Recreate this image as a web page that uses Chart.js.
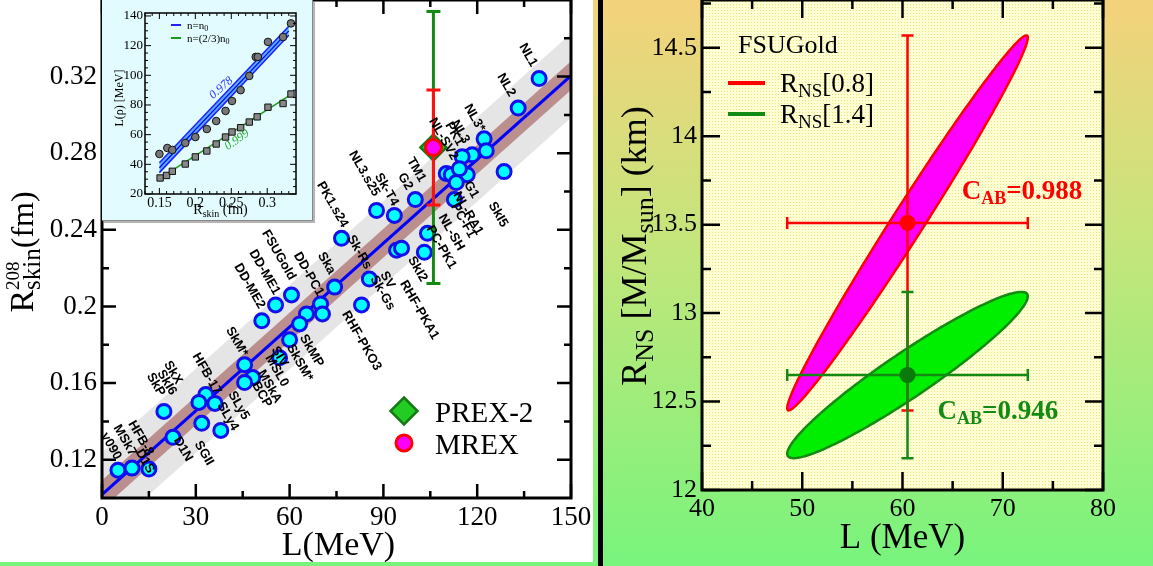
<!DOCTYPE html>
<html>
<head>
<meta charset="utf-8">
<script src="https://cdn.jsdelivr.net/npm/chart.js@4.4.0/dist/chart.umd.min.js"></script>
<style>
html, body { margin: 0; padding: 0; }
body {
    width: 1153px; height: 566px; position: relative; overflow: hidden;
    background: linear-gradient(to bottom, #f4d27c 0%, #c2e67b 45%, #78f47c 100%);
}
#leftWrap { position: absolute; left: 0; top: 0; width: 593px; height: 562px; background: #fff; }
#insetWrap {
    position: absolute; left: 102px; top: 0; width: 211px; height: 221px;
    background: #e1fbff; box-sizing: border-box; border-right: 1px solid #888; border-bottom: 1px solid #888;
    box-shadow: 2px 2px 0 #b5b5b5;
}
#divider { position: absolute; left: 598px; top: 0; width: 5px; height: 566px; background: #000; }
#rightWrap { position: absolute; left: 603px; top: 0; width: 550px; height: 566px; }
canvas { display: block; }
</style>
</head>
<body>
<div id="leftWrap"><canvas id="leftChart" width="593" height="562"></canvas></div>
<div id="insetWrap"><canvas id="insetChart" width="210" height="220"></canvas></div>
<div id="divider"></div>
<div id="rightWrap"><canvas id="rightChart" width="550" height="566"></canvas></div>
<script>
const SERIF = "'Liberation Serif', 'Times New Roman', serif";
const SANS = "'Liberation Sans', Arial, sans-serif";

// ---------- left panel: R_skin(208Pb) vs L ----------
const leftXTicks = [0, 30, 60, 90, 120, 150];
const leftXMinor = [15, 45, 75, 105, 135];
const leftYTicks = [0.12, 0.16, 0.2, 0.24, 0.28, 0.32];
const leftYMinor = [0.14, 0.18, 0.22, 0.26, 0.3, 0.34];

// model predictions (cyan circles)
const modelL = [139.8, 133.1, 122.2, 122.9, 118.4, 115.2, 128.6, 116.8, 110.1, 111.7, 114.3, 113.3, 112.7, 100.2, 93.5, 87.8,
    76.6, 104.1, 94.2, 95.8, 103.1, 85.5, 74.4, 83.0, 60.6, 55.5, 51.1, 69.9, 70.5, 65.4, 63.2, 60.0, 56.8, 45.6, 48.2, 45.6,
    33.2, 31.0, 36.1, 19.8, 31.9, 38.0, 22.7, 5.1, 9.6, 15.0];
const modelR = [0.319, 0.3036, 0.2875, 0.2813, 0.2792, 0.2782, 0.2704, 0.2688, 0.2694, 0.2688, 0.2719, 0.2647, 0.2558, 0.2558,
    0.2475, 0.2501, 0.2356, 0.2382, 0.2294, 0.2304, 0.2283, 0.2143, 0.2101, 0.2008, 0.2060, 0.2008, 0.1925, 0.2013, 0.1961,
    0.1961, 0.1909, 0.1826, 0.1732, 0.1696, 0.1629, 0.1603, 0.1540, 0.1499, 0.1494, 0.1452, 0.1390, 0.1353, 0.1317, 0.1145,
    0.1156, 0.1151];

// model names, placed at the centre of each rotated label
const labelNames = ['NL1', 'NL2', 'NL3*', 'NL3', 'PK1', 'NL-SV2', 'G1', 'NL-RA1', 'PC-F1', 'NL-SH', 'PC-PK1', 'SkI5', 'SkI2',
    'RHF-PKA1', 'SV', 'Sk-Gs', 'Sk-Rs', 'RHF-PKO3', 'PK1.s24', 'NL3.s25', 'Sk-T4', 'TM1', 'G2', 'Ska', 'DD-PC1', 'FSUGold',
    'DD-ME1', 'DD-ME2', 'SkMP', 'SkSM*', 'SIV', 'MSL0', 'MSkA', 'BCP', 'SkM*', 'HFB-17', 'SLy5', 'SLy4', 'SGII', 'D1N', 'SkX',
    'SkI6', 'SkP', 'HFB-8', 'D1S', 'MSk7', 'v090'];
const labelL = [136.3, 129.3, 119.1, 114.6, 112.7, 109.2, 118.1, 117.1, 115.5, 111.7, 108.5, 126.7, 100.9, 101.5, 91.3, 89.7,
    82.3, 83.0, 73.7, 83.9, 91.0, 100.5, 97.0, 71.8, 66.1, 56.5, 52.0, 47.2, 67.0, 63.2, 56.8, 55.9, 53.6, 51.1, 43.1, 33.5,
    43.7, 40.2, 32.6, 25.9, 22.7, 20.7, 17.2, 12.4, 13.7, 7.3, 2.9];
const labelR = [0.3312, 0.3156, 0.2984, 0.2912, 0.2901, 0.2875, 0.261, 0.2486, 0.2449, 0.2387, 0.2309, 0.248, 0.2195, 0.1982,
    0.2138, 0.207, 0.2283, 0.1821, 0.2532, 0.2694, 0.2610, 0.2714, 0.2652, 0.2226, 0.2169, 0.2268, 0.2179, 0.2106, 0.1769,
    0.1706, 0.1738, 0.1665, 0.1582, 0.154, 0.1816, 0.1649, 0.1483, 0.1426, 0.1234, 0.1255, 0.1655, 0.1603, 0.1592, 0.1312,
    0.1192, 0.1301, 0.127];

// linear fit and its two bands
const fitL = [0, 150];
const fitR = [0.1018, 0.3205];
const brownHi = [0.1093, 0.3280];
const brownLo = [0.0943, 0.3130];
const grayHi = [0.1238, 0.3425];
const grayLo = [0.0798, 0.2985];

// experiments
const prexL = 106, prexR = 0.283, prexErr = 0.071;
const mrexL = 106, mrexR = 0.283, mrexErr = 0.030;

// ---------- inset: L(rho) vs R_skin ----------
const insetXTicks = [0.15, 0.2, 0.25, 0.3];
const insetXMinor = [0.13, 0.14, 0.16, 0.17, 0.18, 0.19, 0.21, 0.22, 0.23, 0.24, 0.26, 0.27, 0.28, 0.29, 0.31, 0.32, 0.33];
const insetYTicks = [20, 40, 60, 80, 100, 120, 140];
const insetYMinor = [25, 30, 35, 45, 50, 55, 65, 70, 75, 85, 90, 95, 105, 110, 115, 125, 130, 135];
const circSkin = [0.150, 0.161, 0.168, 0.186, 0.200, 0.216, 0.229, 0.242, 0.251, 0.263, 0.275, 0.284, 0.287, 0.301, 0.322, 0.333];
const circL = [47.0, 51.0, 49.7, 54.4, 58.4, 63.8, 69.2, 76.0, 82.7, 90.0, 99.6, 112.4, 112.4, 122.5, 125.8, 135.0];
const sqSkin = [0.151, 0.160, 0.168, 0.186, 0.200, 0.216, 0.229, 0.242, 0.251, 0.263, 0.275, 0.286, 0.301, 0.322, 0.333];
const sqL = [30.8, 32.5, 35.3, 40.2, 45.0, 49.0, 53.7, 58.4, 61.8, 64.7, 68.5, 72.0, 78.5, 81.0, 87.4];
const blueBandSkin = [0.15, 0.33];
const blueHi = [41.1, 133.0];
const blueMid = [37.7, 130.0];
const blueLo = [34.4, 127.0];
const greenFitSkin = [0.15, 0.333];
const greenFitL = [30.3, 87.0];

// ---------- right panel: R_NS vs L (FSUGold) ----------
const rightXTicks = [40, 50, 60, 70, 80];
const rightXMinor = [45, 55, 65, 75];
const rightYTicks = [12, 12.5, 13, 13.5, 14, 14.5];
const rightYMinor = [12.25, 12.75, 13.25, 13.75, 14.25, 14.75];
const nsNames = ['0.8', '1.4'];
const nsCenterL = [60.5, 60.5];
const nsSigmaL = [12.0, 12.0];
const nsCenterR = [13.51, 12.65];
const nsSigmaR = [1.06, 0.47];
const nsCorr = [0.988, 0.946];
const nsLine = ['#ff0000', '#138a13'];
const nsFill = ['#ff00ff', '#00ee00'];
const nsPoint = ['#ff0000', '#0a7a0a'];

// ---------- helpers ----------
function segWidth(ctx, s) {
    ctx.font = s.f;
    let w = ctx.measureText(s.t).width;
    if (s.sup) {
        ctx.font = s.sup.f;
        w = Math.max(w, ctx.measureText(s.sup.t).width);
    }
    return w;
}

function drawRich(ctx, segs, x, y, align) {
    const total = segs.reduce((w, s) => w + segWidth(ctx, s), 0);
    let cx = align === 'center' ? x - total / 2 : x;
    ctx.textAlign = 'left';
    ctx.textBaseline = 'alphabetic';
    segs.forEach(s => {
        const w = segWidth(ctx, s);
        ctx.font = s.f;
        ctx.fillText(s.t, cx, y + (s.dy || 0));
        if (s.sup) {
            ctx.font = s.sup.f;
            ctx.fillText(s.sup.t, cx, y + s.sup.dy);
        }
        cx += w;
    });
}

function drawFrame(chart, f) {
    const { ctx, chartArea: a } = chart;
    const x = chart.scales.x, y = chart.scales.y;
    ctx.save();
    ctx.strokeStyle = '#000';
    ctx.lineWidth = f.tickW;
    ctx.beginPath();
    const tick = (vals, len, isX) => vals.forEach(v => {
        if (isX) {
            const px = x.getPixelForValue(v);
            ctx.moveTo(px, a.bottom); ctx.lineTo(px, a.bottom - len);
            ctx.moveTo(px, a.top); ctx.lineTo(px, a.top + len);
        } else {
            const py = y.getPixelForValue(v);
            ctx.moveTo(a.left, py); ctx.lineTo(a.left + len, py);
            ctx.moveTo(a.right, py); ctx.lineTo(a.right - len, py);
        }
    });
    tick(f.xMajor, f.major, true);
    tick(f.xMinor, f.minor, true);
    tick(f.yMajor, f.major, false);
    tick(f.yMinor, f.minor, false);
    ctx.stroke();
    ctx.lineWidth = f.lw;
    ctx.strokeRect(a.left, a.top, a.right - a.left, a.bottom - a.top);
    ctx.restore();
}

function errBar(chart, xc, yc, xLo, xHi, yLo, yHi, color, lw, cap) {
    const { ctx } = chart;
    const sx = chart.scales.x, sy = chart.scales.y;
    const px = sx.getPixelForValue(xc), py = sy.getPixelForValue(yc);
    ctx.save();
    ctx.strokeStyle = color;
    ctx.lineWidth = lw;
    ctx.beginPath();
    if (yLo !== null) {
        const p1 = sy.getPixelForValue(yLo), p2 = sy.getPixelForValue(yHi);
        ctx.moveTo(px, p1); ctx.lineTo(px, p2);
        ctx.moveTo(px - cap, p1); ctx.lineTo(px + cap, p1);
        ctx.moveTo(px - cap, p2); ctx.lineTo(px + cap, p2);
    }
    if (xLo !== null) {
        const q1 = sx.getPixelForValue(xLo), q2 = sx.getPixelForValue(xHi);
        ctx.moveTo(q1, py); ctx.lineTo(q2, py);
        ctx.moveTo(q1, py - cap); ctx.lineTo(q1, py + cap);
        ctx.moveTo(q2, py - cap); ctx.lineTo(q2, py + cap);
    }
    ctx.stroke();
    ctx.restore();
}

function fixedAxis(size, horizontal) {
    return function (s) {
        if (horizontal) s.height = size; else s.width = size;
        s.paddingTop = 0; s.paddingBottom = 0; s.paddingLeft = 0; s.paddingRight = 0;
    };
}

function pts(xs, ys) {
    return xs.map((v, i) => ({ x: v, y: ys[i] }));
}

function tickAxis(min, max, list, size, horizontal, fontSize, pad) {
    return {
        type: 'linear', min: min, max: max,
        afterFit: fixedAxis(size, horizontal),
        afterBuildTicks: s => { s.ticks = list.map(v => ({ value: v })); },
        grid: { display: false, drawTicks: false },
        border: { display: false },
        ticks: {
            color: '#000', padding: pad, autoSkip: false, maxRotation: 0,
            font: { family: SERIF, size: fontSize },
            callback: v => String(v)
        }
    };
}

// ---------- left chart ----------
const IDX_MODELS = 5, IDX_PREX = 6;

const leftPlugin = {
    id: 'leftDecor',
    afterDatasetDraw(chart, args) {
        if (args.index === IDX_MODELS) {
            errBar(chart, prexL, prexR, null, null, prexR - prexErr, prexR + prexErr, '#138a13', 3, 7);
        }
        if (args.index === IDX_PREX) {
            errBar(chart, mrexL, mrexR, null, null, mrexR - mrexErr, mrexR + mrexErr, '#ff1010', 3, 7);
        }
    },
    afterDatasetsDraw(chart) {
        const { ctx, chartArea: a } = chart;
        const sx = chart.scales.x, sy = chart.scales.y;
        // model labels
        ctx.save();
        ctx.fillStyle = '#000';
        ctx.font = 'bold 13px ' + SANS;
        ctx.textAlign = 'center';
        ctx.textBaseline = 'middle';
        labelNames.forEach((name, i) => {
            ctx.save();
            ctx.translate(sx.getPixelForValue(labelL[i]), sy.getPixelForValue(labelR[i]));
            ctx.rotate(Math.PI / 3);
            ctx.fillText(name, 0, 0);
            ctx.restore();
        });
        ctx.restore();

        drawFrame(chart, {
            lw: 3, tickW: 2.5, major: 14, minor: 7,
            xMajor: leftXTicks, xMinor: leftXMinor, yMajor: leftYTicks, yMinor: leftYMinor
        });

        // legend
        const lx = a.left + 302, ly1 = a.bottom - 87, ly2 = a.bottom - 55;
        ctx.save();
        ctx.beginPath();
        ctx.moveTo(lx, ly1 - 13.5); ctx.lineTo(lx + 13.5, ly1); ctx.lineTo(lx, ly1 + 13.5); ctx.lineTo(lx - 13.5, ly1);
        ctx.closePath();
        ctx.fillStyle = '#22cc22'; ctx.fill();
        ctx.strokeStyle = '#157a15'; ctx.lineWidth = 2.5; ctx.stroke();
        ctx.beginPath();
        ctx.arc(lx, ly2, 8, 0, Math.PI * 2);
        ctx.fillStyle = '#ff00ff'; ctx.fill();
        ctx.strokeStyle = '#ff0000'; ctx.lineWidth = 3; ctx.stroke();
        ctx.fillStyle = '#000';
        ctx.font = '29px ' + SERIF;
        ctx.textAlign = 'left';
        ctx.textBaseline = 'alphabetic';
        ctx.fillText('PREX-2', lx + 31, ly1 + 11);
        ctx.fillText('MREX', lx + 31, ly2 + 11);
        ctx.restore();
    },
    afterDraw(chart) {
        const { ctx, chartArea: a } = chart;
        ctx.save();
        ctx.fillStyle = '#000';
        ctx.font = '34px ' + SERIF;
        ctx.textAlign = 'center';
        ctx.textBaseline = 'alphabetic';
        ctx.fillText('L(MeV)', (a.left + a.right) / 2 + 2, 555);
        ctx.translate(33, 252);
        ctx.rotate(-Math.PI / 2);
        drawRich(ctx, [
            { t: 'R', f: '34px ' + SERIF },
            { t: 'skin', f: '25px ' + SERIF, dy: 7, sup: { t: '208', f: '19px ' + SERIF, dy: -14 } },
            { t: '(fm)', f: '32px ' + SERIF }
        ], 0, 0, 'center');
        ctx.restore();
    }
};

new Chart(document.getElementById('leftChart'), {
    type: 'line',
    data: {
        datasets: [
            { data: pts(fitL, grayHi), fill: '+1', backgroundColor: '#e5e5e5', borderWidth: 0, pointRadius: 0, order: 100 },
            { data: pts(fitL, grayLo), fill: false, borderWidth: 0, pointRadius: 0, order: 99 },
            { data: pts(fitL, brownHi), fill: '+1', backgroundColor: '#bc8f8f', borderWidth: 0, pointRadius: 0, order: 98 },
            { data: pts(fitL, brownLo), fill: false, borderWidth: 0, pointRadius: 0, order: 97 },
            { data: pts(fitL, fitR), fill: false, borderColor: '#0000ff', borderWidth: 3, pointRadius: 0, order: 96 },
            {
                data: pts(modelL, modelR), showLine: false, order: 95,
                pointRadius: 7, pointBorderWidth: 3, pointBackgroundColor: '#00ffff', pointBorderColor: '#1010ee'
            },
            {
                data: [{ x: prexL, y: prexR }], showLine: false, order: 94, pointStyle: 'rectRot',
                pointRadius: 13, pointBorderWidth: 2.5, pointBackgroundColor: '#22cc22', pointBorderColor: '#157a15'
            },
            {
                data: [{ x: mrexL, y: mrexR }], showLine: false, order: 93,
                pointRadius: 8, pointBorderWidth: 3, pointBackgroundColor: '#ff00ff', pointBorderColor: '#ff0000'
            }
        ]
    },
    options: {
        responsive: false, animation: false, events: [],
        layout: { autoPadding: false, padding: { left: 0, right: 22, top: 0, bottom: 0 } },
        plugins: { legend: { display: false }, tooltip: { enabled: false } },
        scales: {
            x: tickAxis(0, 150, leftXTicks, 64, true, 27, 4),
            y: tickAxis(0.10, 0.36, leftYTicks, 102, false, 27, 5)
        }
    },
    plugins: [leftPlugin]
});

// ---------- inset chart ----------
const insetPlugin = {
    id: 'insetDecor',
    afterDatasetsDraw(chart) {
        const { ctx, chartArea: a } = chart;
        const sx = chart.scales.x, sy = chart.scales.y;
        drawFrame(chart, {
            lw: 1.5, tickW: 1, major: 6, minor: 3,
            xMajor: insetXTicks, xMinor: insetXMinor, yMajor: insetYTicks, yMinor: insetYMinor
        });
        ctx.save();
        ctx.font = 'italic 12px ' + SERIF;
        ctx.textAlign = 'center';
        ctx.textBaseline = 'middle';
        ctx.fillStyle = '#3030ff';
        ctx.translate(sx.getPixelForValue(0.236), sy.getPixelForValue(91.5));
        ctx.rotate(-41 * Math.PI / 180);
        ctx.fillText('0.978', 0, 0);
        ctx.restore();
        ctx.save();
        ctx.font = 'italic 12px ' + SERIF;
        ctx.textAlign = 'center';
        ctx.textBaseline = 'middle';
        ctx.fillStyle = '#22aa22';
        ctx.translate(sx.getPixelForValue(0.258), sy.getPixelForValue(56.4));
        ctx.rotate(-35 * Math.PI / 180);
        ctx.fillText('0.999', 0, 0);
        ctx.restore();

        // legend
        ctx.save();
        ctx.lineWidth = 2;
        ctx.strokeStyle = '#2020ff';
        ctx.beginPath(); ctx.moveTo(a.left + 26, 25); ctx.lineTo(a.left + 36, 25); ctx.stroke();
        ctx.strokeStyle = '#1a9a1a';
        ctx.beginPath(); ctx.moveTo(a.left + 26, 38); ctx.lineTo(a.left + 36, 38); ctx.stroke();
        ctx.fillStyle = '#000';
        drawRich(ctx, [{ t: 'n=n', f: '11px ' + SERIF }, { t: '0', f: '8px ' + SERIF, dy: 2 }], a.left + 42, 29, 'left');
        drawRich(ctx, [{ t: 'n=(2/3)n', f: '11px ' + SERIF }, { t: '0', f: '8px ' + SERIF, dy: 2 }], a.left + 42, 42, 'left');
        ctx.restore();
    },
    afterDraw(chart) {
        const { ctx, chartArea: a } = chart;
        ctx.save();
        ctx.fillStyle = '#000';
        drawRich(ctx, [
            { t: 'R', f: '14px ' + SERIF },
            { t: 'skin', f: '10px ' + SERIF, dy: 3 },
            { t: ' (fm)', f: '14px ' + SERIF }
        ], (a.left + a.right) / 2, 214, 'center');
        ctx.translate(21, 98);
        ctx.rotate(-Math.PI / 2);
        ctx.font = '12px ' + SERIF;
        ctx.textAlign = 'center';
        ctx.textBaseline = 'alphabetic';
        ctx.fillText('L(\u03C1) [MeV]', 0, 0);
        ctx.restore();
    }
};

new Chart(document.getElementById('insetChart'), {
    type: 'line',
    data: {
        datasets: [
            { data: pts(blueBandSkin, blueHi), fill: '+1', backgroundColor: '#5aaeff', borderColor: '#1f1fff', borderWidth: 1.5, pointRadius: 0, order: 100 },
            { data: pts(blueBandSkin, blueLo), fill: false, borderColor: '#1f1fff', borderWidth: 1.5, pointRadius: 0, order: 99 },
            { data: pts(blueBandSkin, blueMid), fill: false, borderColor: '#0000ff', borderWidth: 1.2, pointRadius: 0, order: 98 },
            { data: pts(greenFitSkin, greenFitL), fill: false, borderColor: '#1a9a1a', borderWidth: 1.5, pointRadius: 0, order: 97 },
            {
                data: pts(circSkin, circL), showLine: false, order: 96,
                pointRadius: 3.8, pointBorderWidth: 1, pointBackgroundColor: '#777', pointBorderColor: '#111'
            },
            {
                data: pts(sqSkin, sqL), showLine: false, order: 95, pointStyle: 'rect',
                pointRadius: 4.5, pointBorderWidth: 1, pointBackgroundColor: '#888', pointBorderColor: '#111'
            }
        ]
    },
    options: {
        responsive: false, animation: false, events: [],
        layout: { autoPadding: false, padding: { left: 0, right: 16, top: 13, bottom: 0 } },
        plugins: { legend: { display: false }, tooltip: { enabled: false } },
        scales: {
            x: tickAxis(0.13, 0.34, insetXTicks, 26, true, 14, 1),
            y: tickAxis(20, 142, insetYTicks, 43, false, 13, 2)
        }
    },
    plugins: [insetPlugin]
});

// ---------- right chart ----------
const pat = document.createElement('canvas');
pat.width = 3; pat.height = 3;
const pctx = pat.getContext('2d');
pctx.fillStyle = '#ffffd6'; pctx.fillRect(0, 0, 3, 3);
pctx.fillStyle = '#f0e27a'; pctx.fillRect(1, 1, 1, 1);

function drawEllipse(chart, i) {
    const { ctx } = chart;
    const sx = chart.scales.x, sy = chart.scales.y;
    const rho = nsCorr[i], k = Math.sqrt(1 - rho * rho);
    ctx.save();
    ctx.beginPath();
    for (let s = 0; s <= 360; s += 2) {
        const t = s * Math.PI / 180;
        const xv = nsCenterL[i] + nsSigmaL[i] * Math.cos(t);
        const yv = nsCenterR[i] + nsSigmaR[i] * (rho * Math.cos(t) + k * Math.sin(t));
        const px = sx.getPixelForValue(xv), py = sy.getPixelForValue(yv);
        if (s === 0) ctx.moveTo(px, py); else ctx.lineTo(px, py);
    }
    ctx.closePath();
    ctx.fillStyle = nsFill[i];
    ctx.fill();
    ctx.strokeStyle = nsLine[i];
    ctx.lineWidth = 2.5;
    ctx.stroke();
    ctx.restore();
}

function nsBars(chart, i) {
    errBar(chart, nsCenterL[i], nsCenterR[i],
        nsCenterL[i] - nsSigmaL[i], nsCenterL[i] + nsSigmaL[i],
        nsCenterR[i] - nsSigmaR[i], nsCenterR[i] + nsSigmaR[i], nsLine[i], 2.5, 6);
}

const rightPlugin = {
    id: 'rightDecor',
    beforeDraw(chart) {
        const { ctx, chartArea: a } = chart;
        ctx.save();
        ctx.fillStyle = ctx.createPattern(pat, 'repeat');
        ctx.fillRect(a.left, a.top, a.right - a.left, a.bottom - a.top);
        ctx.restore();
    },
    beforeDatasetsDraw(chart) {
        drawEllipse(chart, 0);
        drawEllipse(chart, 1);
        nsBars(chart, 0);
    },
    afterDatasetDraw(chart, args) {
        if (args.index === 0) nsBars(chart, 1);
    },
    afterDatasetsDraw(chart) {
        const { ctx, chartArea: a } = chart;
        const sx = chart.scales.x, sy = chart.scales.y;
        drawFrame(chart, {
            lw: 3, tickW: 2.5, major: 18, minor: 9,
            xMajor: rightXTicks, xMinor: rightXMinor, yMajor: rightYTicks, yMinor: rightYMinor
        });
        ctx.save();
        // correlation coefficients
        ctx.fillStyle = '#ff0000';
        drawRich(ctx, [
            { t: 'C', f: 'bold 27px ' + SERIF },
            { t: 'AB', f: 'bold 18px ' + SERIF, dy: 5 },
            { t: '=' + nsCorr[0].toFixed(3), f: 'bold 27px ' + SERIF }
        ], sx.getPixelForValue(65.9), sy.getPixelForValue(13.646), 'left');
        ctx.fillStyle = '#138a13';
        drawRich(ctx, [
            { t: 'C', f: 'bold 27px ' + SERIF },
            { t: 'AB', f: 'bold 18px ' + SERIF, dy: 5 },
            { t: '=' + nsCorr[1].toFixed(3), f: 'bold 27px ' + SERIF }
        ], sx.getPixelForValue(63.5), sy.getPixelForValue(12.40), 'left');

        // legend
        ctx.fillStyle = '#000';
        ctx.font = '26px ' + SERIF;
        ctx.textAlign = 'left';
        ctx.textBaseline = 'alphabetic';
        ctx.fillText('FSUGold', a.left + 36, 53);
        nsNames.forEach((n, i) => {
            const yy = 83 + i * 31;
            ctx.strokeStyle = nsLine[i];
            ctx.lineWidth = 4;
            ctx.beginPath(); ctx.moveTo(a.left + 26, yy); ctx.lineTo(a.left + 63, yy); ctx.stroke();
            ctx.fillStyle = '#000';
            drawRich(ctx, [
                { t: 'R', f: '27px ' + SERIF },
                { t: 'NS', f: '19px ' + SERIF, dy: 5 },
                { t: '[' + n + ']', f: '27px ' + SERIF }
            ], a.left + 78, yy + 9, 'left');
        });
        ctx.restore();
    },
    afterDraw(chart) {
        const { ctx, chartArea: a } = chart;
        ctx.save();
        ctx.fillStyle = '#000';
        ctx.font = '35px ' + SERIF;
        ctx.textAlign = 'center';
        ctx.textBaseline = 'alphabetic';
        ctx.fillText('L (MeV)', (a.left + a.right) / 2, 548);
        ctx.translate(43, 246);
        ctx.rotate(-Math.PI / 2);
        drawRich(ctx, [
            { t: 'R', f: '36px ' + SERIF },
            { t: 'NS', f: '26px ' + SERIF, dy: 7 },
            { t: ' [M/M', f: '36px ' + SERIF },
            { t: 'sun', f: '26px ' + SERIF, dy: 7 },
            { t: '] (km)', f: '36px ' + SERIF }
        ], 0, 0, 'center');
        ctx.restore();
    }
};

new Chart(document.getElementById('rightChart'), {
    type: 'line',
    data: {
        datasets: nsNames.map((n, i) => ({
            label: 'R_NS[' + n + ']',
            data: [{ x: nsCenterL[i], y: nsCenterR[i] }],
            showLine: false, order: 2 - i,
            pointRadius: 8, pointBorderWidth: 0, pointBackgroundColor: nsPoint[i], pointBorderColor: nsPoint[i]
        }))
    },
    options: {
        responsive: false, animation: false, events: [],
        layout: { autoPadding: false, padding: { left: 0, right: 50, top: 0, bottom: 0 } },
        plugins: { legend: { display: false }, tooltip: { enabled: false } },
        scales: {
            x: tickAxis(40, 80, rightXTicks, 76, true, 26, 4),
            y: tickAxis(12, 14.77, rightYTicks, 99, false, 26, 5)
        }
    },
    plugins: [rightPlugin]
});
</script>
</body>
</html>
